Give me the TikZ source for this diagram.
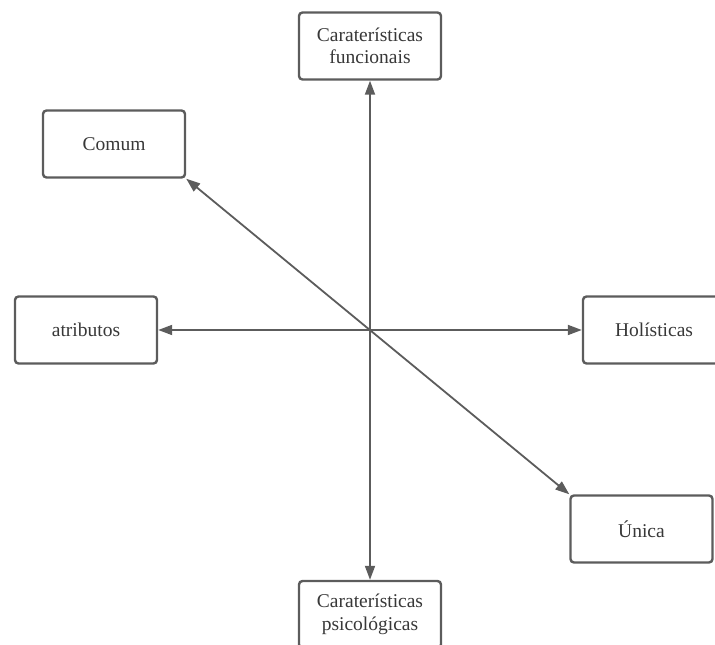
\documentclass[tikz,border=0pt]{standalone}
\usepackage{fontspec}
\setmainfont{Liberation Serif}
\usetikzlibrary{arrows.meta}
\definecolor{edge}{HTML}{5C5C5C}
\definecolor{ink}{HTML}{383838}
\begin{document}
\begin{tikzpicture}[x=1pt,y=1pt,
  box/.style={draw=edge, line width=2.4pt, rounded corners=3.5pt, fill=white,
    minimum width=142pt, minimum height=67pt, inner sep=0pt,
    align=center, text=ink, font=\fontsize{19.5}{22.5}\selectfont},
  link/.style={draw=edge, line width=1.8pt,
    {Triangle[length=14pt,width=10pt]}-{Triangle[length=14pt,width=10pt]}}]
  \useasboundingbox (0,0) rectangle (715,645);
  % the six poles
  \node[box] (func)  at (370,599)   {Caraterísticas\\funcionais};
  \node[box] (comum) at (114,501)   {Comum};
  \node[box] (atrib) at (86,315)    {atributos};
  \node[box] (holi)  at (654,315)   {Holísticas};
  \node[box] (unica) at (641.5,116) {Única};
  \node[box] (psi)   at (370,30.5)  {Caraterísticas\\psicológicas};
  % the three axes
  \draw[link] (func.south) -- (psi.north);
  \draw[link] (atrib.east) -- (holi.west);
  \draw[link] (comum.south east) -- (unica.north west);
\end{tikzpicture}
\end{document}
